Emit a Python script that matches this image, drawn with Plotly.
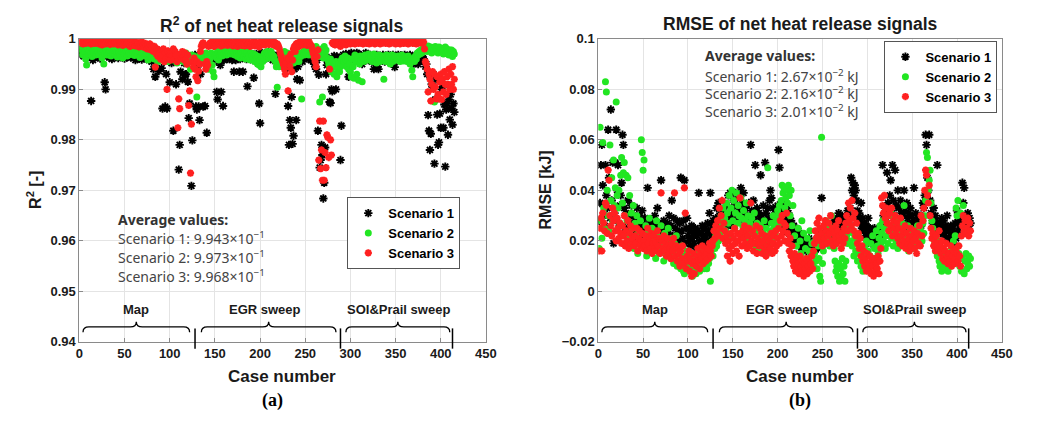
import plotly.graph_objects as go

# ---------------- data ----------------
# R^2 of the net heat release signal per case, stored as R^2 x 1e4
r2_s1 = [
    9975, 9968, 9980, 9972, 9966, 9978, 9970, 9962, 9974, 9969,
    9965, 9971, 9877, 9976, 9958, 9970, 9981, 9964, 9973, 9968,
    9976, 9969, 9961, 9974, 9979, 9966, 9970, 9914, 9900, 9972,
    9967, 9978, 9963, 9971, 9975, 9960, 9968, 9977, 9972, 9965,
    9970, 9974, 9962, 9979, 9968, 9973, 9966, 9975, 9969, 9961,
    9972, 9978, 9964, 9970, 9967, 9975, 9963, 9971, 9976, 9966,
    9969, 9958, 9973, 9965, 9977, 9962, 9970, 9974, 9959, 9968,
    9968, 9971, 9962, 9967, 9972, 9970, 9958, 9966, 9963, 9955,
    9965, 9940, 9968, 9925, 9962, 9970, 9958, 9936, 9966, 9970,
    9942, 9862, 9966, 9968, 9866, 9930, 9862, 9970, 9960, 9914,
    9965, 9952, 9968, 9818, 9966, 9970, 9910, 9962, 9965, 9741,
    9790, 9935, 9966, 9920, 9968, 9952, 9929, 9930, 9962, 9915,
    9843, 9872, 9965, 9709, 9799, 9962, 9950, 9968, 9866, 9860,
    9945, 9866, 9839, 9930, 9965, 9960, 9866, 9958, 9867, 9962,
    9814, 9960, 9962, 9968, 9958, 9968, 9958, 9964, 9960, 9966,
    9966, 9895, 9880, 9955, 9962, 9948, 9895, 9970, 9867, 9958,
    9972, 9965, 9968, 9960, 9974, 9962, 9970, 9966, 9958, 9972,
    9935, 9964, 9958, 9970, 9962, 9968, 9935, 9960, 9972, 9966,
    9935, 9970, 9964, 9968, 9960, 9906, 9972, 9966, 9962, 9970,
    9965, 9958, 9923, 9968, 9962, 9970, 9966, 9960, 9872, 9833,
    9968, 9972, 9964, 9960, 9970, 9966, 9962, 9968, 9974, 9965,
    9970, 9962, 9966, 9958, 9968, 9960, 9891, 9964, 9955, 9966,
    9962, 9952, 9966, 9958, 9968, 9962, 9945, 9965, 9960, 9942,
    9867, 9790, 9839, 9824, 9885, 9792, 9808, 9940, 9950, 9839,
    9920, 9945, 9958, 9918, 9960, 9966, 9955, 9970, 9962, 9968,
    9964, 9970, 9966, 9960, 9972, 9958, 9966, 9962, 9955, 9950,
    9945, 9940, 9958, 9818, 9929, 9745, 9760, 9790, 9770, 9684,
    9715, 9785, 9930, 9948, 9956, 9962, 9875, 9873, 9900, 9896,
    9958, 9966, 9960, 9900, 9965, 9958, 9962, 9950, 9760, 9828,
    9960, 9968, 9955, 9962, 9970, 9966, 9958, 9925, 9964, 9968,
    9972, 9966, 9960, 9970, 9962, 9968, 9972, 9958, 9970, 9964,
    9966, 9958, 9950, 9962, 9968, 9960, 9972, 9966, 9962, 9958,
    9964, 9968, 9960, 9955, 9966, 9940, 9962, 9958, 9968, 9944,
    9940, 9966, 9960, 9964, 9958, 9968, 9962, 9955, 9966, 9960,
    9964, 9968, 9960, 9966, 9958, 9962, 9968, 9955, 9944, 9960,
    9966, 9962, 9968, 9958, 9964, 9967, 9960, 9965, 9962, 9968,
    9964, 9958, 9966, 9960, 9962, 9968, 9955, 9962, 9960, 9950,
    9966, 9958, 9962, 9955, 9950, 9964, 9960, 9958, 9966, 9962,
    9960, 9955, 9945, 9950, 9930, 9849, 9818, 9780, 9812, 9910,
    9905, 9930, 9753, 9880, 9920, 9850, 9790, 9795, 9852, 9824,
    9900, 9904, 9824, 9870, 9747, 9860, 9872, 9810, 9880, 9840,
    9890, 9862, 9830, 9872, 9855,
]
r2_s2 = [
    9985, 9972, 9978, 9968, 9982, 9975, 9960, 9948, 9980, 9970,
    9976, 9984, 9970, 9965, 9979, 9973, 9985, 9968, 9977, 9981,
    9974, 9969, 9983, 9976, 9962, 9978, 9950, 9971, 9980, 9975,
    9968, 9982, 9974, 9977, 9966, 9980, 9972, 9985, 9970, 9976,
    9979, 9964, 9981, 9973, 9968, 9984, 9975, 9962, 9978, 9971,
    9983, 9976, 9966, 9980, 9972, 9985, 9969, 9977, 9974, 9981,
    9967, 9979, 9972, 9984, 9970, 9976, 9963, 9980, 9973, 9968,
    9978, 9966, 9982, 9971, 9975, 9958, 9980, 9969, 9974, 9962,
    9970, 9976, 9960, 9972, 9966, 9978, 9955, 9968, 9974, 9960,
    9965, 9972, 9958, 9968, 9975, 9962, 9970, 9955, 9966, 9972,
    9960, 9968, 9974, 9958, 9965, 9970, 9962, 9952, 9968, 9960,
    9966, 9958, 9970, 9962, 9955, 9968, 9960, 9972, 9950, 9965,
    9958, 9962, 9940, 9968, 9955, 9960, 9966, 9958, 9962, 9885,
    9960, 9955, 9966, 9970, 9962, 9958, 9968, 9960, 9955, 9972,
    9950, 9968, 9940, 9958, 9962, 9972, 9948, 9935, 9925, 9966,
    9970, 9962, 9975, 9958, 9968, 9980, 9972, 9966, 9978, 9970,
    9982, 9975, 9968, 9980, 9972, 9985, 9976, 9970, 9978, 9984,
    9975, 9968, 9980, 9972, 9965, 9978, 9970, 9962, 9975, 9968,
    9972, 9965, 9978, 9960, 9970, 9975, 9962, 9968, 9958, 9972,
    9966, 9960, 9970, 9955, 9968, 9962, 9950, 9965, 9948, 9958,
    9945, 9962, 9955, 9968, 9972, 9960, 9966, 9975, 9970, 9962,
    9968, 9975, 9970, 9962, 9966, 9958, 9955, 9945, 9904, 9948,
    9945, 9955, 9965, 9950, 9970, 9962, 9975, 9968, 9960, 9972,
    9965, 9958, 9970, 9962, 9955, 9960, 9952, 9958, 9966, 9955,
    9960, 9968, 9955, 9972, 9965, 9881, 9970, 9975, 9968, 9978,
    9972, 9980, 9975, 9968, 9982, 9976, 9970, 9978, 9972, 9968,
    9975, 9985, 9970, 9978, 9965, 9875, 9972, 9980, 9885, 9962,
    9985, 9970, 9978, 9962, 9958, 9950, 9945, 9960, 9935, 9952,
    9945, 9930, 9948, 9955, 9925, 9940, 9950, 9935, 9945, 9958,
    9962, 9948, 9955, 9966, 9958, 9945, 9962, 9940, 9950, 9935,
    9925, 9960, 9945, 9922, 9968, 9955, 9930, 9962, 9918, 9950,
    9966, 9958, 9915, 9962, 9955, 9968, 9960, 9964, 9958, 9970,
    9962, 9958, 9966, 9955, 9962, 9970, 9958, 9964, 9952, 9966,
    9960, 9968, 9955, 9962, 9958, 9966, 9920, 9960, 9955, 9968,
    9962, 9958, 9966, 9950, 9962, 9968, 9955, 9960, 9966, 9958,
    9964, 9958, 9966, 9960, 9955, 9962, 9968, 9960, 9956, 9965,
    9962, 9958, 9955, 9966, 9960, 9950, 9958, 9938, 9925, 9962,
    9955, 9966, 9960, 9972, 9968, 9975, 9970, 9978, 9972, 9980,
    9976, 9985, 9978, 9982, 9975, 9986, 9980, 9978, 9984, 9972,
    9982, 9976, 9875, 9985, 9978, 9980, 9972, 9984, 9976, 9982,
    9975, 9980, 9970, 9978, 9984, 9972, 9980, 9975, 9968, 9978,
    9972, 9978, 9965, 9975, 9970,
]
r2_s3 = [
    9995, 9992, 9997, 9990, 9994, 9996, 9991, 9993, 9997, 9994,
    9992, 9996, 9990, 9994, 9997, 9993, 9991, 9995, 9998, 9992,
    9994, 9990, 9996, 9993, 9988, 9995, 9992, 9997, 9990, 9994,
    9996, 9991, 9994, 9989, 9995, 9992, 9997, 9990, 9993, 9995,
    9991, 9994, 9988, 9996, 9992, 9990, 9995, 9987, 9993, 9991,
    9994, 9989, 9992, 9996, 9990, 9985, 9993, 9988, 9991, 9995,
    9990, 9986, 9993, 9988, 9992, 9984, 9990, 9987, 9994, 9985,
    9989, 9983, 9991, 9986, 9980, 9988, 9984, 9990, 9978, 9986,
    9982, 9975, 9985, 9944, 9970, 9980, 9965, 9978, 9972, 9960,
    9975, 9968, 9980, 9955, 9972, 9962, 9900, 9976, 9965, 9970,
    9958, 9972, 9966, 9980, 9960, 9975, 9968, 9955, 9824, 9881,
    9862, 9970, 9962, 9975, 9965, 9958, 9972, 9960, 9950, 9968,
    9868, 9897, 9734, 9831, 9955, 9945, 9962, 9940, 9925, 9955,
    9917, 9936, 9950, 9975, 9985, 9990, 9992, 9988, 9950, 9940,
    9955, 9948, 9985, 9990, 9992, 9987, 9994, 9990, 9985, 9993,
    9990, 9995, 9988, 9992, 9996, 9990, 9986, 9993, 9991, 9988,
    9994, 9990, 9996, 9987, 9992, 9995, 9989, 9993, 9990, 9986,
    9992, 9988, 9995, 9990, 9985, 9993, 9989, 9996, 9991, 9987,
    9994, 9990, 9986, 9992, 9995, 9988, 9991, 9993, 9985, 9990,
    9992, 9988, 9994, 9986, 9990, 9993, 9987, 9991, 9984, 9989,
    9994, 9990, 9996, 9992, 9988, 9995, 9991, 9997, 9993, 9989,
    9995, 9992, 9990, 9996, 9988, 9993, 9991, 9985, 9990, 9987,
    9982, 9975, 9968, 9960, 9955, 9948, 9940, 9930, 9952, 9962,
    9897, 9960, 9945, 9970, 9935, 9958, 9980, 9985, 9975, 9990,
    9988, 9992, 9985, 9990, 9995, 9993, 9988, 9991, 9996, 9990,
    9993, 9987, 9992, 9995, 9990, 9988, 9985, 9977, 9970, 9962,
    9955, 9945, 9965, 9978, 9760, 9837, 9743, 9780, 9720, 9837,
    9720, 9775, 9745, 9810, 9805, 9765, 9940, 9800, 9770, 9992,
    9990, 9994, 9988, 9992, 9996, 9990, 9993, 9988, 9985, 9990,
    9992, 9996, 9990, 9994, 9988, 9993, 9997, 9991, 9995, 9990,
    9994, 9998, 9992, 9996, 9990, 9995, 9993, 9997, 9991, 9995,
    9992, 9996, 9994, 9990, 9997, 9993, 9995, 9991, 9996, 9994,
    9990, 9995, 9992, 9997, 9993, 9996, 9990, 9994, 9998, 9992,
    9996, 9993, 9990, 9995, 9997, 9992, 9994, 9996, 9991, 9995,
    9993, 9997, 9990, 9994, 9996, 9992, 9995, 9998, 9993, 9990,
    9996, 9994, 9992, 9997, 9990, 9995, 9993, 9996, 9991, 9994,
    9997, 9992, 9995, 9990, 9996, 9993, 9998, 9994, 9991, 9995,
    9993, 9996, 9990, 9994, 9997, 9992, 9995, 9993, 9996, 9991,
    9994, 9980, 9955, 9950, 9940, 9895, 9930, 9920, 9877, 9910,
    9935, 9900, 9930, 9905, 9881, 9925, 9890, 9881, 9915, 9930,
    9880, 9920, 9895, 9935, 9910, 9890, 9925, 9910, 9940, 9900,
    9930, 9910, 9945, 9900, 9920,
]

# RMSE of the net heat release signal per case, stored in units of 1e-3 kJ
rmse_s1 = [
    28, 35, 50, 58, 42, 30, 26, 50, 38, 33,
    64, 45, 29, 72, 36, 51, 19, 31, 51, 64,
    40, 50, 27, 34, 38, 43, 62, 58, 33, 25,
    31, 24, 36, 29, 27, 22, 34, 26, 30, 21,
    28, 24, 33, 22, 27, 30, 25, 21, 32, 26,
    23, 29, 20, 26, 41, 24, 22, 28, 19, 27,
    25, 21, 30, 23, 26, 33, 22, 27, 20, 44,
    24, 22, 28, 19, 25, 21, 27, 23, 30, 20,
    26, 36, 22, 29, 21, 25, 18, 28, 23, 20,
    27, 45, 24, 21, 28, 44, 19, 25, 29, 22,
    20, 24, 18, 26, 21, 23, 19, 25, 17, 22,
    24, 39, 20, 18, 23, 26, 21, 19, 25, 22,
    20, 27, 24, 31, 39, 22, 26, 28, 24, 21,
    29, 33, 25, 35, 30, 27, 32, 24, 28, 26,
    31, 25, 34, 29, 38, 27, 39, 30, 33, 26,
    36, 28, 39, 31, 34, 29, 38, 32, 41, 35,
    30, 39, 27, 33, 24, 30, 26, 35, 29, 58,
    32, 28, 36, 30, 50, 27, 33, 25, 31, 29,
    46, 30, 26, 34, 28, 51, 31, 27, 33, 29,
    36, 40, 37, 29, 33, 27, 31, 25, 30, 34,
    56, 49, 32, 28, 35, 26, 30, 24, 29, 33,
    27, 31, 25, 22, 28, 24, 20, 26, 22, 25,
    21, 19, 24, 18, 22, 20, 17, 19, 21, 18,
    20, 16, 19, 17, 21, 17, 18, 15, 19, 17,
    16, 19, 18, 21, 17, 20, 23, 18, 37, 20,
    22, 22, 19, 24, 21, 25, 20, 26, 23, 22,
    27, 24, 28, 25, 22, 29, 26, 31, 24, 28,
    25, 30, 27, 23, 29, 26, 28, 32, 27, 30,
    33, 45, 40, 43, 38, 42, 40, 36, 32, 29,
    31, 27, 35, 25, 29, 24, 27, 22, 26, 23,
    29, 21, 25, 19, 23, 20, 24, 25, 18, 22,
    20, 24, 19, 23, 21, 26, 50, 30, 28, 33,
    29, 47, 35, 31, 38, 44, 32, 50, 36, 30,
    48, 34, 29, 40, 33, 28, 36, 31, 27, 30,
    40, 32, 26, 35, 29, 31, 27, 33, 25, 30,
    28, 41, 26, 31, 24, 29, 27, 25, 30, 26,
    28, 35, 33, 38, 62, 58, 45, 40, 62, 36,
    31, 29, 27, 33, 25, 30, 28, 50, 26, 24,
    27, 23, 29, 25, 28, 22, 26, 24, 30, 21,
    24, 20, 26, 22, 25, 19, 23, 27, 21, 32,
    24, 28, 26, 30, 27, 43, 35, 41, 30, 25,
    28, 31, 26, 29, 27,
]
rmse_s2 = [
    17, 65, 28, 21, 59, 33, 25, 83, 79, 40,
    30, 24, 58, 36, 45, 28, 52, 34, 41, 75,
    38, 33, 40, 27, 46, 53, 35, 47, 51, 30,
    46, 28, 45, 22, 38, 19, 31, 25, 34, 17,
    27, 22, 30, 15, 24, 20, 28, 60, 55, 48,
    52, 19, 26, 14, 23, 18, 29, 21, 16, 25,
    20, 17, 24, 13, 28, 22, 18, 15, 21, 26,
    16, 19, 12, 23, 17, 14, 20, 25, 15, 18,
    13, 21, 16, 11, 19, 14, 22, 10, 17, 12,
    15, 9, 18, 12, 8, 7, 14, 11, 16, 9,
    13, 8, 11, 15, 6, 12, 9, 14, 7, 10,
    12, 16, 8, 13, 10, 17, 11, 9, 14, 12,
    9, 15, 11, 13, 4, 16, 19, 14, 20, 17,
    22, 18, 25, 20, 28, 23, 30, 26, 33, 21,
    29, 24, 35, 31, 27, 38, 22, 33, 40, 28,
    36, 25, 31, 39, 27, 34, 30, 23, 37, 29,
    26, 32, 22, 28, 35, 24, 30, 20, 27, 23,
    29, 19, 25, 31, 22, 18, 27, 24, 16, 21,
    26, 20, 17, 23, 28, 19, 25, 15, 49, 22,
    18, 24, 27, 21, 30, 25, 23, 28, 26, 32,
    30, 34, 27, 36, 42, 39, 41, 33, 37, 40,
    35, 42, 38, 30, 40, 26, 34, 13, 22, 11,
    18, 14, 25, 10, 20, 15, 28, 12, 23, 9,
    17, 13, 21, 8, 16, 24, 11, 19, 14, 10,
    15, 20, 12, 9, 18, 13, 6, 4, 61, 11,
    16, 22, 19, 28, 25, 21, 26, 18, 23, 30,
    20, 25, 17, 12, 8, 10, 6, 11, 4, 9,
    5, 13, 7, 10, 4, 12, 22, 19, 26, 24,
    20, 25, 18, 23, 14, 21, 16, 19, 12, 22,
    15, 17, 10, 13, 8, 12, 18, 14, 20, 11,
    16, 9, 14, 19, 11, 22, 13, 17, 10, 24,
    18, 15, 21, 26, 19, 23, 28, 20, 25, 17,
    22, 27, 19, 24, 30, 32, 21, 26, 18, 23,
    25, 20, 28, 17, 22, 26, 19, 24, 27, 21,
    34, 18, 23, 20, 26, 16, 22, 25, 19, 21,
    24, 17, 20, 23, 18, 26, 21, 19, 25, 22,
    20, 27, 23, 30, 36, 55, 53, 40, 44, 48,
    35, 28, 25, 22, 19, 16, 21, 14, 18, 12,
    10, 15, 8, 13, 11, 16, 9, 12, 14, 8,
    11, 13, 10, 17, 12, 20, 14, 22, 33, 30,
    36, 15, 10, 31, 8, 13, 34, 7, 12, 15,
    9, 11, 14, 10, 13,
]
rmse_s3 = [
    16, 25, 29, 16, 31, 27, 24, 35, 34, 23,
    48, 44, 30, 26, 22, 33, 28, 31, 24, 20,
    29, 25, 21, 27, 23, 19, 26, 22, 30, 18,
    24, 20, 28, 17, 23, 26, 19, 21, 25, 18,
    22, 19, 25, 16, 21, 24, 18, 20, 23, 17,
    20, 18, 22, 16, 25, 19, 21, 17, 23, 15,
    19, 22, 17, 20, 16, 24, 18, 21, 15, 39,
    20, 17, 22, 16, 19, 14, 21, 18, 15, 17,
    13, 19, 16, 21, 39, 14, 18, 12, 17, 15,
    10, 16, 13, 18, 11, 41, 31, 9, 14, 12,
    16, 8, 13, 6, 11, 15, 7, 12, 10, 14,
    17, 12, 9, 15, 13, 18, 11, 16, 14, 12,
    15, 17, 13, 19, 16, 14, 18, 20, 24, 21,
    26, 23, 28, 22, 33, 25, 30, 36, 21, 27,
    24, 19, 22, 14, 20, 17, 12, 23, 18, 15,
    21, 25, 19, 16, 23, 20, 14, 37, 22, 18,
    24, 21, 26, 19, 23, 17, 22, 25, 18, 35,
    20, 24, 16, 22, 19, 26, 15, 21, 18, 25,
    19, 23, 15, 20, 17, 22, 14, 18, 21, 16,
    20, 17, 23, 15, 19, 22, 16, 24, 18, 21,
    25, 19, 28, 22, 30, 24, 27, 20, 26, 31,
    23, 19, 16, 21, 14, 18, 12, 10, 15, 8,
    13, 9, 11, 7, 14, 10, 8, 12, 6, 11,
    9, 13, 7, 10, 12, 8, 11, 14, 9, 16,
    19, 24, 21, 27, 22, 29, 25, 20, 23, 18,
    26, 21, 28, 24, 19, 22, 27, 23, 30, 20,
    25, 18, 23, 21, 26, 19, 24, 28, 22, 20,
    17, 23, 19, 25, 21, 27, 30, 24, 35, 28,
    33, 26, 36, 29, 24, 31, 22, 27, 19, 23,
    17, 21, 14, 18, 12, 16, 10, 13, 8, 15,
    11, 9, 14, 7, 12, 10, 6, 13, 8, 11,
    9, 14, 7, 12, 17, 37, 34, 31, 38, 29,
    33, 27, 30, 24, 31, 26, 33, 22, 28, 25,
    30, 23, 27, 21, 25, 19, 29, 22, 18, 24,
    20, 26, 17, 23, 19, 21, 16, 25, 18, 22,
    20, 24, 17, 21, 15, 23, 19, 26, 18, 30,
    22, 28, 33, 40, 48, 46, 38, 35, 42, 30,
    25, 21, 23, 18, 20, 16, 22, 19, 17, 24,
    18, 15, 20, 13, 17, 12, 16, 19, 14, 11,
    15, 12, 18, 10, 14, 16, 11, 13, 17, 15,
    12, 18, 14, 10, 22, 26, 30, 24, 28, 23,
    25, 29, 22, 27, 24,
]

scenario_names = ["Scenario 1", "Scenario 2", "Scenario 3"]
r2_avg_text = ["9.943×10<sup>−1</sup>", "9.973×10<sup>−1</sup>", "9.968×10<sup>−1</sup>"]
rmse_avg_text = ["2.67×10<sup>−2</sup> kJ", "2.16×10<sup>−2</sup> kJ", "2.01×10<sup>−2</sup> kJ"]

# operating-point groups along the case axis: (label, brace start, brace end, label centre)
groups = [("Map", 4, 122, 63), ("EGR sweep", 135, 284, 205), ("SOI&Prail sweep", 295, 410, 353)]
group_bounds = [128, 289, 413]

r2_ticks = [0.94, 0.95, 0.96, 0.97, 0.98, 0.99, 1.0]
r2_ticktext = ["0.94", "0.95", "0.96", "0.97", "0.98", "0.99", "1"]
rmse_ticks = [-0.02, 0, 0.02, 0.04, 0.06, 0.08, 0.1]
rmse_ticktext = ["−0.02", "0", "0.02", "0.04", "0.06", "0.08", "0.1"]

# ---------------- figure ----------------
W, H = 1037, 430
def px(x):
    return x / W
def py(y):
    return 1 - y / H

dom_a = [px(76.5), px(489)]
dom_b = [px(603), px(1012.5)]
dom_y = [py(347), py(33)]

styles = [
    dict(symbol="asterisk-open", size=7, color="black", line=dict(color="black", width=1.9)),
    dict(symbol="circle", size=7, color="#22e622", line=dict(width=0)),
    dict(symbol="asterisk-open", size=6, color="#ff2020", line=dict(color="#ff2020", width=2.2)),
]

fig = go.Figure()
for name, vals, st in zip(scenario_names, [r2_s1, r2_s2, r2_s3], styles):
    fig.add_trace(go.Scatter(
        x=list(range(1, len(vals) + 1)), y=[v / 1e4 for v in vals],
        mode="markers", marker=st, name=name, xaxis="x", yaxis="y", legend="legend",
        cliponaxis=True))
for name, vals, st in zip(scenario_names, [rmse_s1, rmse_s2, rmse_s3], styles):
    fig.add_trace(go.Scatter(
        x=list(range(1, len(vals) + 1)), y=[v / 1e3 for v in vals],
        mode="markers", marker=st, name=name, xaxis="x2", yaxis="y2", legend="legend2",
        cliponaxis=True))

tickfont = dict(family="Liberation Sans", size=13, color="#1a1a1a", weight="bold")
axis_common = dict(showline=True, linecolor="#8a8a8a", linewidth=1, mirror=True,
                   showgrid=True, gridcolor="#e4e4e4", gridwidth=1, zeroline=False,
                   ticks="inside", ticklen=4, tickcolor="#8a8a8a", tickfont=tickfont)

legend_font = dict(family="Liberation Sans", size=13, weight="bold", color="black")
xticks = list(range(0, 451, 50))
fig.update_layout(
    width=W, height=H, margin=dict(l=0, r=0, t=0, b=0),
    paper_bgcolor="white", plot_bgcolor="white",
    xaxis=dict(domain=dom_a, range=[0, 450], tickvals=xticks, anchor="y", **axis_common),
    yaxis=dict(domain=dom_y, range=[0.94, 1.0], tickvals=r2_ticks, ticktext=r2_ticktext,
               anchor="x", **axis_common),
    xaxis2=dict(domain=dom_b, range=[0, 450], tickvals=xticks, anchor="y2", **axis_common),
    yaxis2=dict(domain=dom_y, range=[-0.02, 0.1], tickvals=rmse_ticks, ticktext=rmse_ticktext,
                anchor="x2", **axis_common),
    legend=dict(x=px(463), xanchor="right", y=py(197), yanchor="top",
                bgcolor="white", bordercolor="#555", borderwidth=1, itemwidth=30,
                font=legend_font, tracegroupgap=0),
    legend2=dict(x=px(1008), xanchor="right", y=py(35), yanchor="top",
                 bgcolor="white", bordercolor="#555", borderwidth=1, itemwidth=30,
                 font=legend_font, tracegroupgap=0),
    showlegend=True,
)

ann = []
def text(x, y, s, size, bold=True, family="Liberation Sans", color="#1a1a1a",
         xanchor="center", angle=0):
    ann.append(dict(x=px(x), y=py(y), xref="paper", yref="paper", text=s, showarrow=False,
                    xanchor=xanchor, yanchor="middle", textangle=angle,
                    font=dict(family=family, size=size, color=color,
                              weight="bold" if bold else "normal")))

# titles and axis labels
text(282, 19, "R<sup>2</sup> of net heat release signals", 17.5)
text(808, 18, "RMSE of net heat release signals", 17.5)
text(282, 383, "Case number", 17)
text(808, 383, "Case number", 17)
text(31, 190, "R<sup>2</sup> [-]", 16, angle=-90)
text(549, 190, "RMSE [kJ]", 16, angle=-90)
text(272, 408, "(a)", 18, family="Liberation Serif", color="black")
text(808, 408, "(b)", 18, family="Liberation Serif", color="black")

# average-value notes
text(114, 220, "Average values:", 14, family="Noto Sans", color="#333333", xanchor="left")
for i, (n, t) in enumerate(zip(scenario_names, r2_avg_text)):
    text(114, 239 + 20 * i, f"{n}: {t}", 14, bold=False, family="Noto Sans",
         color="#444444", xanchor="left")
text(709, 50, "Average values:", 14, family="Noto Sans", color="#333333", xanchor="left")
for i, (n, t) in enumerate(zip(scenario_names, rmse_avg_text)):
    text(709, 71 + 18.5 * i, f"{n}: {t}", 14, bold=False, family="Noto Sans",
         color="#444444", xanchor="left")

# group braces, labels and separators
shapes = []
def case_to_px(case, dom):
    return dom[0] + case / 450 * (dom[1] - dom[0])

for dom in (dom_a, dom_b):
    y_end, y_line, y_tip = py(337), py(331.5), py(326)
    w = 6 / W
    for label, c0, c1, cm in groups:
        x0, x1 = case_to_px(c0, dom), case_to_px(c1, dom)
        xm = case_to_px((c0 + c1) / 2, dom)
        path = (f"M{x0},{y_end} Q{x0},{y_line} {x0 + w},{y_line} L{xm - w},{y_line} "
                f"Q{xm},{y_line} {xm},{y_tip} Q{xm},{y_line} {xm + w},{y_line} "
                f"L{x1 - w},{y_line} Q{x1},{y_line} {x1},{y_end}")
        shapes.append(dict(type="path", path=path, xref="paper", yref="paper",
                           line=dict(color="black", width=1.3)))
        xl = case_to_px(cm, dom) * W
        text(xl, 313, label, 13)
    for b in group_bounds:
        xb = case_to_px(b, dom)
        shapes.append(dict(type="line", x0=xb, x1=xb, y0=py(354), y1=py(333),
                           xref="paper", yref="paper", line=dict(color="black", width=1.5)))

fig.update_layout(annotations=ann, shapes=shapes)
fig.write_html("out.html")
